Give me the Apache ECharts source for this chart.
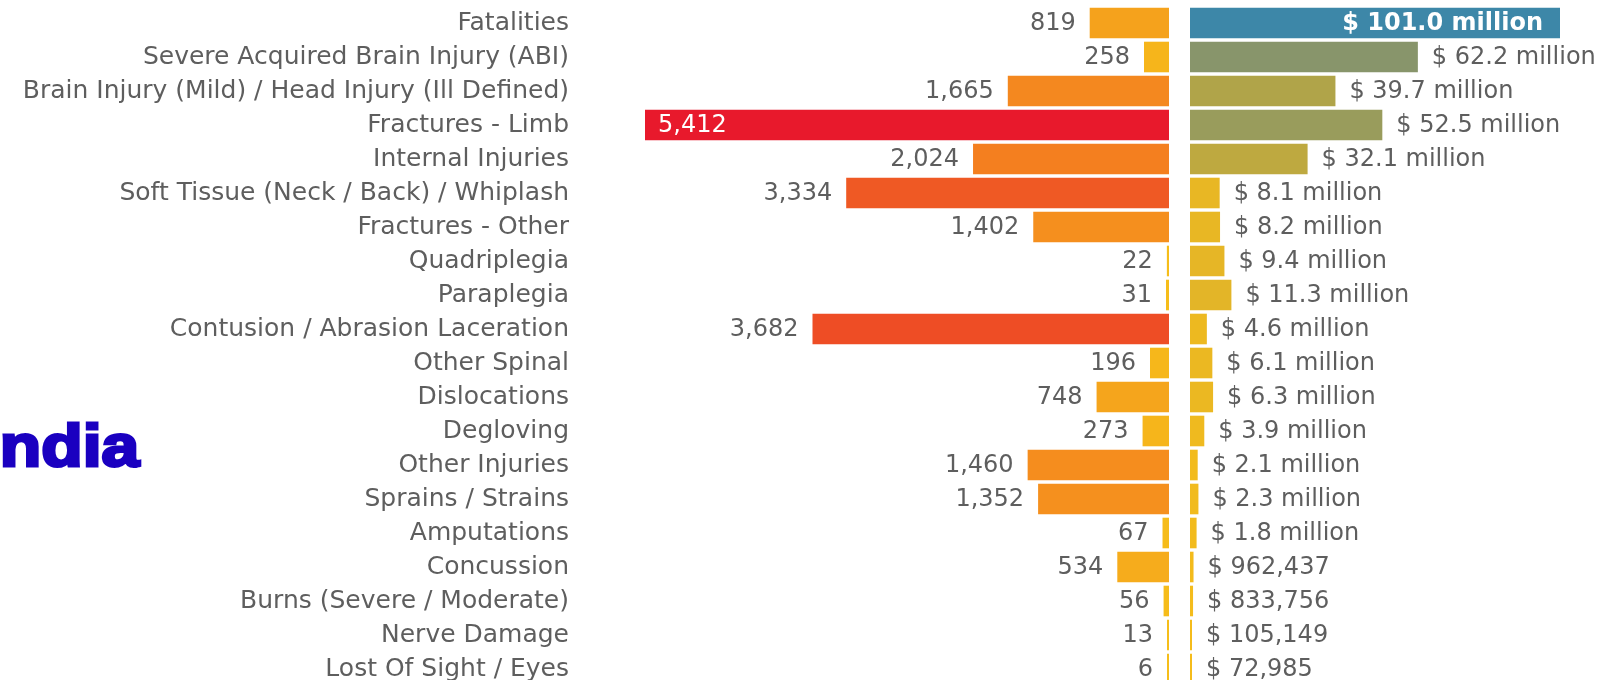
<!DOCTYPE html>
<html>
<head>
<meta charset="utf-8">
<title>Injury claims</title>
<script src="https://cdn.jsdelivr.net/npm/echarts@6/dist/echarts.min.js"></script>
<style>
  html, body { margin: 0; padding: 0; background: #fff; }
  #injuryChart { width: 1606px; height: 680px; }
</style>
</head>
<body>
<div id="injuryChart"></div>
<script>
const Injuries = [
  'Fatalities', 'Severe Acquired Brain Injury (ABI)', 'Brain Injury (Mild) / Head Injury (Ill Defined)',
  'Fractures - Limb', 'Internal Injuries', 'Soft Tissue (Neck / Back) / Whiplash', 'Fractures - Other',
  'Quadriplegia', 'Paraplegia', 'Contusion / Abrasion Laceration', 'Other Spinal', 'Dislocations',
  'Degloving', 'Other Injuries', 'Sprains / Strains', 'Amputations', 'Concussion',
  'Burns (Severe / Moderate)', 'Nerve Damage', 'Lost Of Sight / Eyes'
];
// number of claims (left side)
const ClaimCounts = [819, 258, 1665, 5412, 2024, 3334, 1402, 22, 31, 3682, 196, 748, 273, 1460, 1352, 67, 534, 56, 13, 6];
// total cost in dollars (right side)
const ClaimCosts = [
  101.0e6, 62.2e6, 39.7e6, 52.5e6, 32.1e6, 8.1e6, 8.2e6, 9.4e6, 11.3e6, 4.6e6,
  6.1e6, 6.3e6, 3.9e6, 2.1e6, 2.3e6, 1.8e6, 962437, 833756, 105149, 72985
];
const CountColors = ['#F6BE1A', '#F5901E', '#F26E21', '#EC4027', '#E8192C'];
const CostColors = ['#F5BC1B', '#D4B032', '#AFA44A', '#8B9668', '#648E88', '#3D87A8'];

const labelFont = 'DejaVu Sans';
const textGray = '#5e5e5e';

function formatCost(v) {
  if (v >= 1e6) return '$ ' + (v / 1e6).toFixed(1) + ' million';
  return '$ ' + v.toLocaleString('en-US');
}

const maxCount = Math.max(...ClaimCounts);
const maxCost = Math.max(...ClaimCosts);

const chart = echarts.init(document.getElementById('injuryChart'));
const option = {
  backgroundColor: '#fff',
  animation: false,
  graphic: [{
    type: 'text',
    x: -19,
    y: 449,
    scaleX: 1.13,
    style: {
      text: 'India',
      fontFamily: '"Liberation Sans", Arial, sans-serif',
      fontWeight: 'bold',
      fontSize: 60,
      fill: '#1A00C0',
      stroke: '#1A00C0',
      lineWidth: 3,
      verticalAlign: 'middle'
    }
  }],
  // v6 shrinks grids to fit labels unless told not to
  grid: [
    { left: 645, width: 524, top: 6, bottom: -6, outerBoundsMode: 'none' },
    { left: 1190, width: 370, top: 6, bottom: -6, outerBoundsMode: 'none' }
  ],
  xAxis: [
    { type: 'value', gridIndex: 0, inverse: true, min: 0, max: 'dataMax', show: false },
    { type: 'value', gridIndex: 1, min: 0, max: 'dataMax', show: false }
  ],
  yAxis: [
    {
      type: 'category', gridIndex: 0, inverse: true, data: Injuries,
      axisLine: { show: false }, axisTick: { show: false },
      axisLabel: { margin: 76, color: textGray, fontFamily: labelFont, fontSize: 25, padding: [3, 0, 0, 0] }
    },
    {
      type: 'category', gridIndex: 1, inverse: true, data: Injuries,
      axisLine: { show: false }, axisTick: { show: false }, axisLabel: { show: false }
    }
  ],
  visualMap: [
    { show: false, type: 'continuous', seriesIndex: 0, dimension: 0, min: 0, max: maxCount, inRange: { color: CountColors } },
    { show: false, type: 'continuous', seriesIndex: 1, dimension: 0, min: 0, max: maxCost, inRange: { color: CostColors } }
  ],
  series: [
    {
      name: 'Claims',
      type: 'bar',
      xAxisIndex: 0,
      yAxisIndex: 0,
      barCategoryGap: '10%',
      barMinHeight: 2,
      data: ClaimCounts.map(v => v === maxCount
        ? { value: v, label: { position: 'insideLeft', color: '#fff', distance: 13 } }
        : v),
      label: {
        show: true,
        position: 'left',
        distance: 14,
        offset: [0, 1],
        color: textGray,
        fontFamily: labelFont,
        fontSize: 24,
        formatter: p => p.value.toLocaleString('en-US')
      }
    },
    {
      name: 'Cost',
      type: 'bar',
      xAxisIndex: 1,
      yAxisIndex: 1,
      barCategoryGap: '10%',
      barMinHeight: 2,
      data: ClaimCosts.map(v => v === maxCost
        ? { value: v, label: { position: 'insideRight', color: '#fff', fontWeight: 'bold', distance: 17 } }
        : v),
      label: {
        show: true,
        position: 'right',
        distance: 14,
        offset: [0, 1],
        color: textGray,
        fontFamily: labelFont,
        fontSize: 24,
        formatter: p => formatCost(p.value)
      }
    }
  ]
};
chart.setOption(option);
</script>
</body>
</html>
